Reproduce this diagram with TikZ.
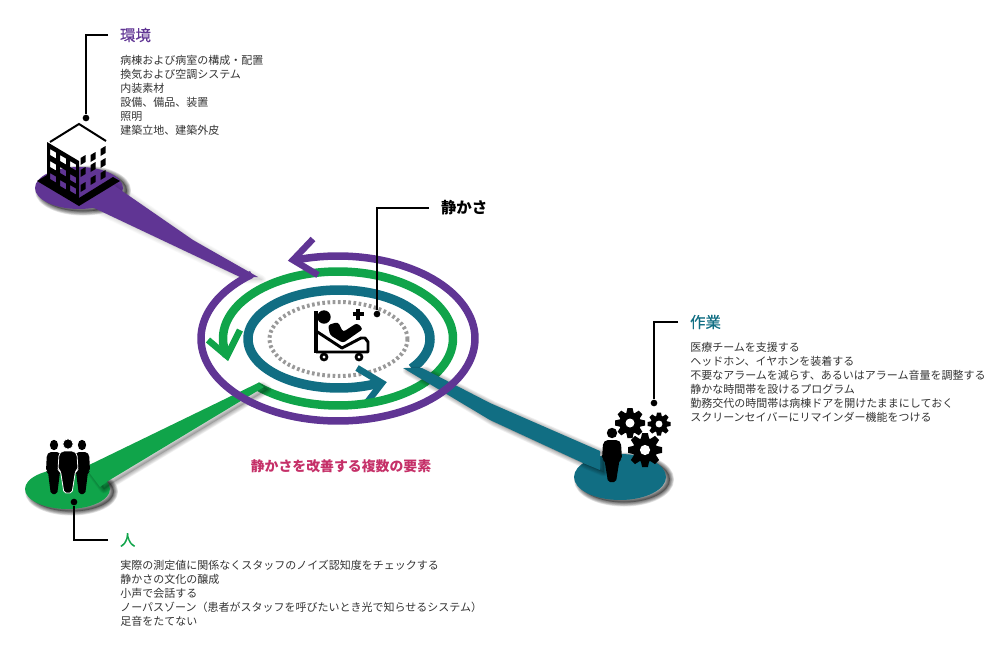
\documentclass[tikz,border=0pt]{standalone}
\usepackage{fontspec}
\setmainfont{Noto Sans CJK JP}
\usetikzlibrary{positioning}

\definecolor{envcol}{RGB}{96,53,148}
\definecolor{peoplecol}{RGB}{16,164,74}
\definecolor{workcol}{RGB}{17,110,131}
\definecolor{notecol}{RGB}{197,48,104}

% blurred shadow under a filled shape
\newcommand{\softshadow}[2][.11]{
  \foreach \w in {6,5,...,1} {
    \draw[black,opacity=#1,line width=\w pt,line join=round,shift={(4,2.5)}] #2;
  }
  \fill[black,opacity=#1*3,shift={(4,2.5)}] #2;
}

\begin{document}
\begin{tikzpicture}[x=.75pt,y=-.75pt]
  \tikzset{heading/.style={anchor=west,inner sep=0pt,outer xsep=9pt,font=\fontsize{11.6}{14}\selectfont\addfontfeature{FakeBold=.35}},
    listing/.style={anchor=north west,inner sep=0pt,align=left,text=black!80,font=\fontsize{8.25}{10.5}\selectfont},
    dot/.style={circle,fill=black,inner sep=0pt,minimum size=5pt},
    leader/.style={draw=black,line width=1.1pt},
    ring/.style={line width=#1*.75pt,line join=miter},
    personicon/.pic={
      \path[pic actions] (0,0) circle[radius=5.2];
      \path[pic actions,rounded corners=1.5] (-6,7) -- (6,7) -- (9,10) -- (10,26) -- (7.5,27) -- (4,49)
        -- (-4,49) -- (-7.5,27) -- (-10,26) -- (-9,10) -- cycle;
    },
    gearicon/.pic={
      \fill[black] (0,0) circle[radius=.72];
      \foreach \a in {0,45,...,315} {
        \fill[black,rotate=\a] (-.26,.6) -- (-.17,1) -- (.17,1) -- (.26,.6) -- cycle;
      }
      \fill[white] (0,0) circle[radius=.3];
    }}
  \useasboundingbox (0,0) rectangle (989,646);

  % discs
  \softshadow{(79,188) ellipse [x radius=44,y radius=21]}
  \softshadow{(67.5,489) ellipse [x radius=42.5,y radius=20]}
  \softshadow{(620,477) ellipse [x radius=46,y radius=23]}
  \fill[envcol] (79,188) ellipse [x radius=44,y radius=21];
  \fill[peoplecol] (67.5,489) ellipse [x radius=42.5,y radius=20];
  \fill[workcol] (620,477) ellipse [x radius=46,y radius=23];

  % inner rings
  \draw[gray!80,line width=3pt,dash pattern=on 2pt off 1.9pt] (338.5,339) ellipse [x radius=69,y radius=37];
  \draw[workcol,ring=9.5] plot[domain=63:397,samples=120] ({339+91*cos(\x)},{339+49*sin(\x)});
  \draw[workcol,ring=6.5] (357,368) -- (382,383) -- (365,405);
  \draw[peoplecol,ring=8.5] plot[domain=165:495,samples=120] ({338+115*cos(\x)},{338.5+67*sin(\x)});
  \draw[peoplecol,ring=6.5] (240,330) -- (227,356) -- (208,340);

  % spokes
  \softshadow[.05]{(422,368) -- (490,403) -- (600,451) -- (600,470) -- (583,463) -- (490,420) -- (403,368) -- cycle}
  \softshadow[.05]{(85,467) -- (258,383) -- (264,387) -- (108,481) -- (100,487) -- cycle}
  \softshadow[.02]{(112,184) -- (193,240) -- (258,277) -- (240,277) -- (92,207) -- cycle}
  \fill[workcol] (422,368) -- (490,403) -- (600,451) -- (600,470) -- (583,463) -- (490,420) -- (403,368) -- cycle;
  \fill[peoplecol] (85,467) -- (258,383) -- (264,387) -- (108,481) -- (100,487) -- cycle;
  \fill[envcol] (112,184) -- (193,240) -- (258,277) -- (240,277) -- (92,207) -- cycle;

  % outer ring
  \draw[envcol,ring=7.5] plot[domain=-109:231,samples=120] ({338+137*cos(\x)},{338.5+82.5*sin(\x)});
  \draw[envcol,ring=6.5] (313,239) -- (293,260) -- (318,275);

  % building
  \draw[black,line width=1.5pt] (50,142) -- (79,124) -- (106,141);
  \fill[black,even odd rule] (47,142) -- (79,161) -- (79,206) -- (37,181) -- (47,175) -- cycle
    \foreach \xa/\ya in {50/149,60/155,70/161,50/161,60/167,70/174,50/173,60/180,70/185} {
      (\xa,\ya) -- (\xa+6,\ya+3.5) -- (\xa+6,\ya+9.5) -- (\xa,\ya+6) -- cycle
    };
  \fill[black] (79,206) -- (120,181) -- (113,177) -- (79,198) -- cycle;
  \foreach \xa/\ya in {83/160,93/157,103/151,83/172,93/167,103/163,83/187,93/180,103/175} {
    \fill[black] (\xa-2.5,\ya-2) -- (\xa+2.5,\ya-5) -- (\xa+2.5,\ya+2) -- (\xa-2.5,\ya+5) -- cycle;
  }

  % people and gears
  \pic[fill=black,xscale=.8] at (54,445) {personicon};
  \pic[fill=black,xscale=.8] at (82,445) {personicon};
  \pic[fill=black,draw=white,line width=.6pt] at (68,444) {personicon};
  \pic[fill=black] at (612,433) {personicon};
  \pic[scale=15] at (630,423) {gearicon};
  \pic[scale=11.5] at (659,424) {gearicon};
  \pic[scale=17] at (645,450) {gearicon};

  % bed
  \draw[black,line width=2.6pt] (316,311) -- (316,353);
  \draw[black,line width=2.2pt,line join=round] (316,331) -- (342,348) -- (361,338) -- (365,338) -- (368,342) -- (368,352) -- (316,352);
  \fill[black,rounded corners=2pt] (328,325) -- (338,322) -- (343,332) -- (357,323) -- (363,329) -- (343,343) -- (330,335) -- cycle;
  \fill[black] (324,317) circle[radius=6.7];
  \filldraw[fill=white,draw=black,line width=2pt] (324,357) circle[radius=3] (359,357) circle[radius=3];
  \draw[black,line width=2.4pt] (352.5,314) -- (363.5,314) (358,308.5) -- (358,319.5);

  % headings, lists and leaders
  \node[heading,text=envcol] (envtitle) at (108,35) {環境};
  \node[listing] (envlist) at (120,55) {病棟および病室の構成・配置\\換気および空調システム\\内装素材\\設備、備品、装置\\照明\\建築立地、建築外皮};
  \node[dot] (envdot) at (86,118) {};
  \draw[leader] (envtitle.west) -| (envdot);

  \node[heading,text=black,font=\fontsize{11.6}{14}\selectfont\bfseries] (quiettitle) at (429,208) {静かさ};
  \node[dot] (quietdot) at (377,314) {};
  \draw[leader] (quiettitle.west) -| (quietdot);

  \node[heading,text=workcol] (worktitle) at (678,322) {作業};
  \node[listing] (worklist) at (690,342) {医療チームを支援する\\ヘッドホン、イヤホンを装着する\\不要なアラームを減らす、あるいはアラーム音量を調整する\\静かな時間帯を設けるプログラム\\勤務交代の時間帯は病棟ドアを開けたままにしておく\\スクリーンセイバーにリマインダー機能をつける};
  \node[dot] (workdot) at (654,403) {};
  \draw[leader] (worktitle.west) -| (workdot);

  \node[heading,text=peoplecol] (peopletitle) at (108,540) {人};
  \node[listing] (peoplelist) at (120,560) {実際の測定値に関係なくスタッフのノイズ認知度をチェックする\\静かさの文化の醸成\\小声で会話する\\ノーパスゾーン（患者がスタッフを呼びたいとき光で知らせるシステム）\\足音をたてない};
  \node[dot] (peopledot) at (74,502) {};
  \draw[leader] (peopletitle.west) -| (peopledot);

  \node[inner sep=0pt,text=notecol,font=\fontsize{10.4}{12}\selectfont\bfseries] (notelabel) at (341,466) {静かさを改善する複数の要素};
\end{tikzpicture}
\end{document}
